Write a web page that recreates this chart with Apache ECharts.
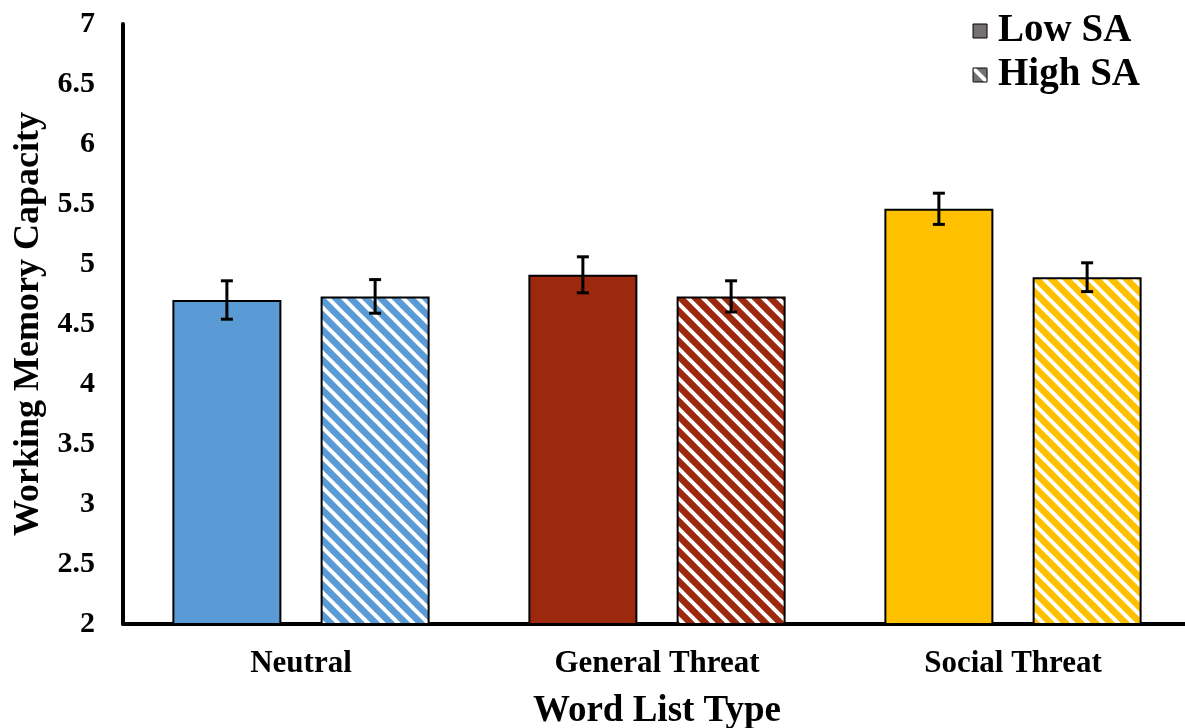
<!DOCTYPE html>
<html>
<head>
<meta charset="utf-8">
<style>
  html, body { margin: 0; padding: 0; background: #fff; overflow: hidden; }
  #chart { width: 1185px; height: 728px; }
</style>
<script src="https://cdn.jsdelivr.net/npm/echarts@6/dist/echarts.min.js"></script>
</head>
<body>
<div id="chart"></div>
<script>
// Working memory capacity by word list type and social anxiety group
const categories = ['Neutral', 'General Threat', 'Social Threat'];
const lowSA = [4.70, 4.91, 5.46];
const highSA = [4.73, 4.73, 4.89];
const lowSAErr = [0.16, 0.15, 0.13];
const highSAErr = [0.14, 0.13, 0.12];
const barColors = ['#5B9BD5', '#9C290D', '#FFC000'];
const legendGray = '#767171';

const FONT = '"Liberation Serif", "Times New Roman", serif';
const BAR_WIDTH = 109;
const BAR_GAP = 0.36;

// Diagonal white stripes over a base colour
function stripes(color) {
  const p = 15;
  const c = document.createElement('canvas');
  c.width = p; c.height = p;
  const ctx = c.getContext('2d');
  ctx.fillStyle = color;
  ctx.fillRect(0, 0, p, p);
  ctx.strokeStyle = '#ffffff';
  ctx.lineWidth = 4;
  for (let k = -1; k <= 1; k++) {
    ctx.beginPath();
    ctx.moveTo(k * p - 2, -2);
    ctx.lineTo(k * p + p + 2, p + 2);
    ctx.stroke();
  }
  return { image: c, repeat: 'repeat' };
}

function errorSeries(values, errs, side) {
  return {
    type: 'custom',
    name: side < 0 ? 'Low SA err' : 'High SA err',
    z: 10,
    silent: true,
    data: values.map((v, i) => [i, v - errs[i], v + errs[i]]),
    renderItem: function (params, api) {
      const off = side * BAR_WIDTH * (1 + BAR_GAP) / 2;
      const lo = api.coord([api.value(0), api.value(1)]);
      const hi = api.coord([api.value(0), api.value(2)]);
      const x = lo[0] + off;
      const cap = 6;
      const style = { stroke: '#000', lineWidth: 3 };
      return {
        type: 'group',
        children: [
          { type: 'line', shape: { x1: x, y1: hi[1], x2: x, y2: lo[1] }, style },
          { type: 'line', shape: { x1: x - cap, y1: hi[1], x2: x + cap, y2: hi[1] }, style },
          { type: 'line', shape: { x1: x - cap, y1: lo[1], x2: x + cap, y2: lo[1] }, style }
        ]
      };
    }
  };
}

const chart = echarts.init(document.getElementById('chart'), null, { renderer: 'canvas' });

chart.setOption({
  animation: false,
  backgroundColor: '#fff',
  textStyle: { fontFamily: FONT, fontWeight: 'bold', color: '#000' },
  legend: {
    data: ['Low SA', 'High SA'],
    orient: 'vertical',
    right: 40,
    top: 6,
    itemWidth: 14,
    itemHeight: 14,
    itemGap: 4,
    icon: 'rect',
    itemStyle: { borderColor: '#000', borderWidth: 1 },
    textStyle: { fontFamily: FONT, fontWeight: 'bold', fontSize: 39, color: '#000', lineHeight: 40, padding: [0, 0, 0, 6] }
  },
  grid: { left: 123, top: 24, bottom: 104, width: 1068, containLabel: false, outerBoundsMode: 'none' },
  xAxis: {
    type: 'category',
    data: categories,
    name: 'Word List Type',
    nameLocation: 'middle',
    nameGap: 69,
    nameTextStyle: { fontFamily: FONT, fontWeight: 'bold', fontSize: 37, color: '#000' },
    axisLine: { lineStyle: { color: '#000', width: 4 } },
    axisTick: { show: false },
    axisLabel: { fontFamily: FONT, fontWeight: 'bold', fontSize: 31, color: '#000', margin: 24 },
    splitLine: { show: false }
  },
  yAxis: {
    type: 'value',
    min: 2,
    max: 7,
    interval: 0.5,
    name: 'Working Memory Capacity',
    nameLocation: 'middle',
    nameGap: 75,
    nameTextStyle: { fontFamily: FONT, fontWeight: 'bold', fontSize: 36, color: '#000' },
    axisLine: { show: true, lineStyle: { color: '#000', width: 4 } },
    axisTick: { show: false },
    axisLabel: { fontFamily: FONT, fontWeight: 'bold', fontSize: 30, color: '#000', margin: 28 },
    splitLine: { show: false }
  },
  series: [
    {
      name: 'Low SA',
      type: 'bar',
      barWidth: BAR_WIDTH,
      barGap: (BAR_GAP * 100) + '%',
      itemStyle: { color: legendGray, borderColor: '#000', borderWidth: 2 },
      data: lowSA.map((v, i) => ({ value: v, itemStyle: { color: barColors[i] } }))
    },
    {
      name: 'High SA',
      type: 'bar',
      barWidth: BAR_WIDTH,
      barGap: (BAR_GAP * 100) + '%',
      itemStyle: { color: stripes(legendGray), borderColor: '#000', borderWidth: 2 },
      data: highSA.map((v, i) => ({ value: v, itemStyle: { color: stripes(barColors[i]) } }))
    },
    errorSeries(lowSA, lowSAErr, -1),
    errorSeries(highSA, highSAErr, 1)
  ]
});
</script>
</body>
</html>
